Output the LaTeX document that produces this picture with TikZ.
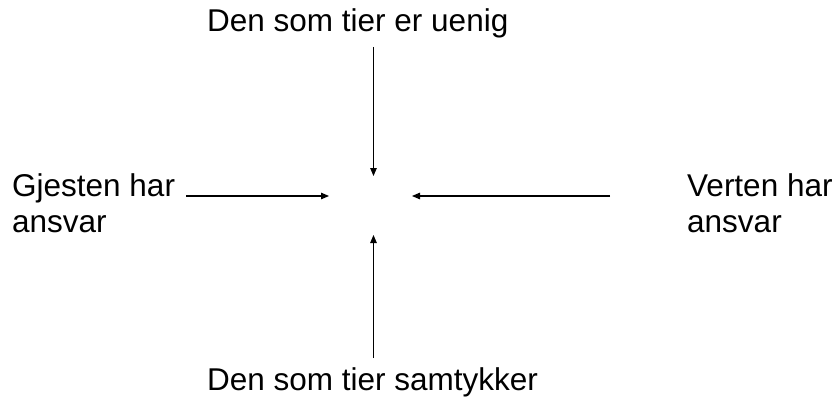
\documentclass[tikz,border=0pt]{standalone}
\usepackage{fontspec}
\setmainfont{Liberation Sans}
\usetikzlibrary{arrows.meta}
\begin{document}
\begin{tikzpicture}[x=1pt,y=1pt,
  lbl/.style={inner sep=0pt,anchor=base west,font=\fontsize{31.5}{36}\selectfont},
  arr/.style={line width=1.1pt,-{Triangle[length=8pt,width=6.5pt]}}]
\useasboundingbox (0,0) rectangle (837,-396);
% texts
\node[lbl] (top) at (207,-32) {Den som tier er uenig};
\node[lbl] (bot) at (207,-390) {Den som tier samtykker};
\node[lbl] (gj1) at (12,-196) {Gjesten har};
\node[lbl] (gj2) at (12,-232) {ansvar};
\node[lbl] (ve1) at (687,-196) {Verten har};
\node[lbl] (ve2) at (687,-232) {ansvar};
% arrow end points
\coordinate (ts) at (373.5,-47);
\coordinate (te) at (373.5,-176);
\coordinate (bs) at (373.5,-358);
\coordinate (be) at (373.5,-235);
\coordinate (ls) at (186,-196);
\coordinate (le) at (329,-196);
\coordinate (rs) at (610,-196);
\coordinate (re) at (412,-196);
\draw[arr] (ts) -- (te);
\draw[arr] (bs) -- (be);
\draw[arr] (ls) -- (le);
\draw[arr] (rs) -- (re);
\end{tikzpicture}
\end{document}
